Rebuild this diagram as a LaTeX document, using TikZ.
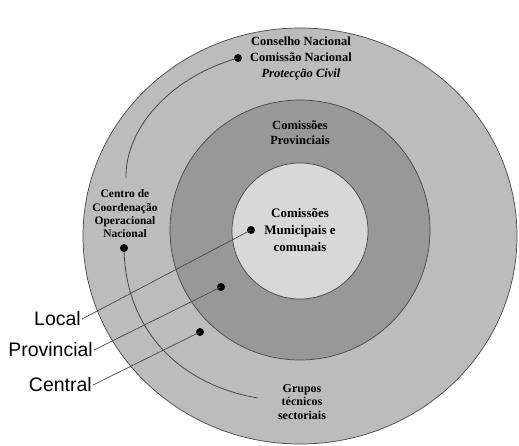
\documentclass[tikz,border=0pt]{standalone}
\usepackage{fontspec}
\setmainfont{Liberation Serif}
\newfontfamily\labelfont{Liberation Sans}
\definecolor{ringout}{RGB}{188,188,188}
\definecolor{ringmid}{RGB}{152,152,152}
\definecolor{ringin}{RGB}{216,216,216}
\definecolor{edge}{RGB}{70,70,70}
\begin{document}
\begin{tikzpicture}[x=1pt,y=-1pt,
  ring/.style={draw=edge,line width=0.7pt},
  dotmark/.style={circle,fill=black,inner sep=0pt,minimum size=8pt},
  orgtext/.style={align=center,font=\bfseries\fontsize{12.5}{16}\selectfont,inner sep=0pt},
  smalltext/.style={align=center,font=\bfseries\fontsize{11.5}{13.3}\selectfont,inner sep=0pt},
  lvl/.style={anchor=east,font=\labelfont\fontsize{19.5}{22}\selectfont,inner sep=1pt},
  link/.style={draw=edge,line width=0.8pt},
  leader/.style={draw=edge,line width=0.7pt}]
\useasboundingbox (0,0) rectangle (519,445);
\fill[white] (0,0) rectangle (519,445);
% rings
\path[ring,fill=ringout] (300,236) ellipse [x radius=217,y radius=208];
\path[ring,fill=ringmid] (300,230) circle [radius=130];
\path[ring,fill=ringin] (300,231) circle [radius=68];
% dots
\node[dotmark] (dnat) at (238,58) {};
\node[dotmark] (dmun) at (251,230) {};
\node[dotmark] (dprov) at (221,287) {};
\node[dotmark] (dcen) at (200,332) {};
\node[dotmark] (dcoord) at (124,248) {};
% texts
\node[orgtext] (nat) at (301,58) {Conselho Nacional\\Comissão Nacional\\\textit{Protecção Civil}};
\node[orgtext,font=\bfseries\fontsize{12.5}{15}\selectfont] (prov) at (300,133) {Comissões\\Provinciais};
\node[orgtext,font=\bfseries\fontsize{13}{17}\selectfont] (mun) at (300,230) {Comissões\\Municipais e\\comunais};
\node[smalltext] (coord) at (125,214) {Centro de\\Coordenação\\Operacional\\Nacional};
\node[smalltext,font=\bfseries\fontsize{12}{13.5}\selectfont] (grp) at (302,402) {Grupos\\técnicos\\sectoriais};
\coordinate (arcstart) at (126,178);
\coordinate (arcend) at (258,398);
% arcs
\draw[link] (arcstart) .. controls (125,130) and (168,78) .. (dnat.center);
\draw[link] (dcoord.center) .. controls (125,330) and (180,385) .. (arcend);
% level labels
\node[lvl] (local) at (82,319) {Local};
\node[lvl] (provl) at (94,350) {Provincial};
\node[lvl] (cent) at (93,385) {Central};
\draw[leader] (local.east) -- (dmun.center);
\draw[leader] (provl.east) -- (dprov.center);
\draw[leader] (cent.east) -- (dcen.center);
\end{tikzpicture}
\end{document}
